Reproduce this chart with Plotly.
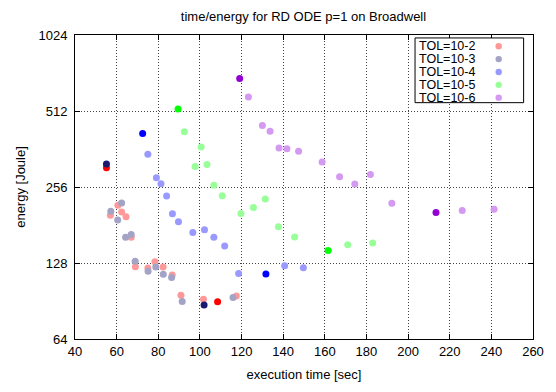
import plotly.graph_objects as go

# ---------------- data ----------------
tol_labels = ["TOL=10-2", "TOL=10-3", "TOL=10-4", "TOL=10-5", "TOL=10-6"]

time_tol2 = [60.6, 57.0, 62.4, 64.5, 67.0, 69.0, 75.0, 78.4, 82.3, 86.7, 90.9, 101.7, 117.5]
energy_tol2 = [216.8, 198.0, 204.0, 195.0, 161.7, 123.6, 122.2, 129.6, 123.3, 114.6, 95.3, 92.0, 94.7]

time_tol3 = [62.4, 57.2, 60.5, 67.0, 64.3, 68.9, 75.1, 78.8, 82.4, 86.4, 91.5, 115.9]
energy_tol3 = [221.2, 205.4, 189.5, 166.1, 161.7, 130.1, 118.7, 123.3, 115.4, 112.2, 90.1, 93.4]

time_tol4 = [75.0, 79.1, 81.3, 84.0, 86.8, 89.7, 96.6, 102.2, 106.7, 111.9, 118.6, 140.7, 149.7]
energy_tol4 = [345.3, 278.7, 263.9, 235.6, 200.5, 186.6, 169.1, 173.3, 161.7, 149.6, 116.4, 124.7, 122.5]

time_tol5 = [92.5, 100.6, 97.7, 103.4, 106.7, 110.7, 131.4, 125.7, 119.7, 137.7, 145.5, 171.0, 183.0]
energy_tol5 = [424.0, 368.6, 308.7, 314.3, 260.0, 236.2, 229.3, 212.2, 201.0, 178.0, 162.1, 151.2, 153.7]

time_tol6 = [123.3, 130.0, 133.7, 138.0, 141.8, 147.4, 158.7, 167.1, 174.4, 181.9, 192.2, 226.0, 241.3]
energy_tol6 = [581.8, 448.8, 425.4, 365.3, 363.0, 354.7, 321.4, 281.0, 263.0, 286.9, 220.7, 206.5, 209.1]

# highlighted runs per tolerance: fastest and most energy-efficient
fastest_time = [55.1, 55.1, 72.5, 89.5, 119.1]
fastest_energy = [305.0, 315.6, 416.7, 521.3, 688.0]
frugal_time = [108.5, 102.0, 131.7, 161.6, 213.4]
frugal_energy = [89.8, 87.2, 115.8, 143.6, 202.8]

x_ticks = [40, 60, 80, 100, 120, 140, 160, 180, 200, 220, 240, 260]
y_ticks = [64, 128, 256, 512, 1024]

# ---------------- style ----------------
light_colors = ["#ff9999", "#a3a3c6", "#9999ff", "#99ff99", "#d499f0"]
dark_colors = ["#ff0000", "#191970", "#0000ff", "#00ff00", "#9400d3"]
FONT = "Liberation Sans, Arial, sans-serif"

series = [
    (time_tol2, energy_tol2),
    (time_tol3, energy_tol3),
    (time_tol4, energy_tol4),
    (time_tol5, energy_tol5),
    (time_tol6, energy_tol6),
]

fig = go.Figure()
for (xs, ys), name, col in zip(series, tol_labels, light_colors):
    fig.add_trace(go.Scatter(x=xs, y=ys, mode="markers", name=name,
                             marker=dict(size=7, color=col, line=dict(width=0)),
                             showlegend=False))

for i, col in enumerate(dark_colors):
    fig.add_trace(go.Scatter(x=[fastest_time[i], frugal_time[i]],
                             y=[fastest_energy[i], frugal_energy[i]],
                             mode="markers", showlegend=False,
                             marker=dict(size=7, color=col, line=dict(width=0))))

# page body has an 8px margin; size the figure so it fills the 556x392 window
OFF = 8
W, H = 556 - OFF, 392 - OFF
L, R, T, B = 63.5, 20.5, 27, 47
pw, ph = W - L - R, H - T - B


def px(xw):  # window pixel -> paper x
    return (xw - OFF - L) / pw


def py(yw):  # window pixel -> paper y
    return (H - B - (yw - OFF)) / ph


# custom gnuplot-style key (text left, marker right)
shapes = [dict(type="rect", xref="paper", yref="paper",
               x0=px(416), x1=px(526), y0=py(104), y1=py(38),
               line=dict(color="black", width=1), fillcolor="white", layer="above")]
annotations = []
for i, (name, col) in enumerate(zip(tol_labels, light_colors)):
    yc = 46.5 + 13.1 * i
    annotations.append(dict(xref="paper", yref="paper", x=px(418), y=py(yc),
                            text=name, showarrow=False, xanchor="left", yanchor="middle",
                            font=dict(family=FONT, size=12.5, color="black")))
    shapes.append(dict(type="circle", xref="paper", yref="paper",
                       x0=px(497.5), x1=px(504), y0=py(yc + 3.25), y1=py(yc - 3.25),
                       line=dict(width=0), fillcolor=col, layer="above"))

axis_common = dict(showline=True, mirror="ticks", linecolor="black", linewidth=1,
                   ticks="inside", ticklen=5, tickcolor="black",
                   showgrid=True, gridcolor="#444444", griddash="1px,2px", gridwidth=1,
                   zeroline=False, tickfont=dict(family=FONT, size=13, color="black"))

fig.update_layout(
    width=W, height=H,
    margin=dict(l=L, r=R, t=T, b=B, pad=0),
    paper_bgcolor="white", plot_bgcolor="white",
    hovermode=False,
    font=dict(family=FONT, size=13, color="black"),
    title=dict(text="time/energy for RD ODE p=1 on Broadwell", x=(L + pw / 2) / W,
               xanchor="center", y=1 - (16 - OFF) / H, yanchor="middle",
               font=dict(family=FONT, size=13, color="black")),
    xaxis=dict(range=[40, 260], tickvals=x_ticks, ticktext=[str(v) for v in x_ticks],
               title=dict(text="execution time [sec]", standoff=12,
                          font=dict(family=FONT, size=13, color="black")),
               **axis_common),
    yaxis=dict(type="log", range=[0.30103 * 6, 0.30103 * 10], tickvals=y_ticks,
               ticktext=[str(v) for v in y_ticks], ticklabelstandoff=4,
               title=dict(text="energy [Joule]", standoff=9,
                          font=dict(family=FONT, size=13, color="black")),
               **axis_common),
    shapes=shapes,
    annotations=annotations,
)

fig.write_html("out.html", config={"displayModeBar": False})
